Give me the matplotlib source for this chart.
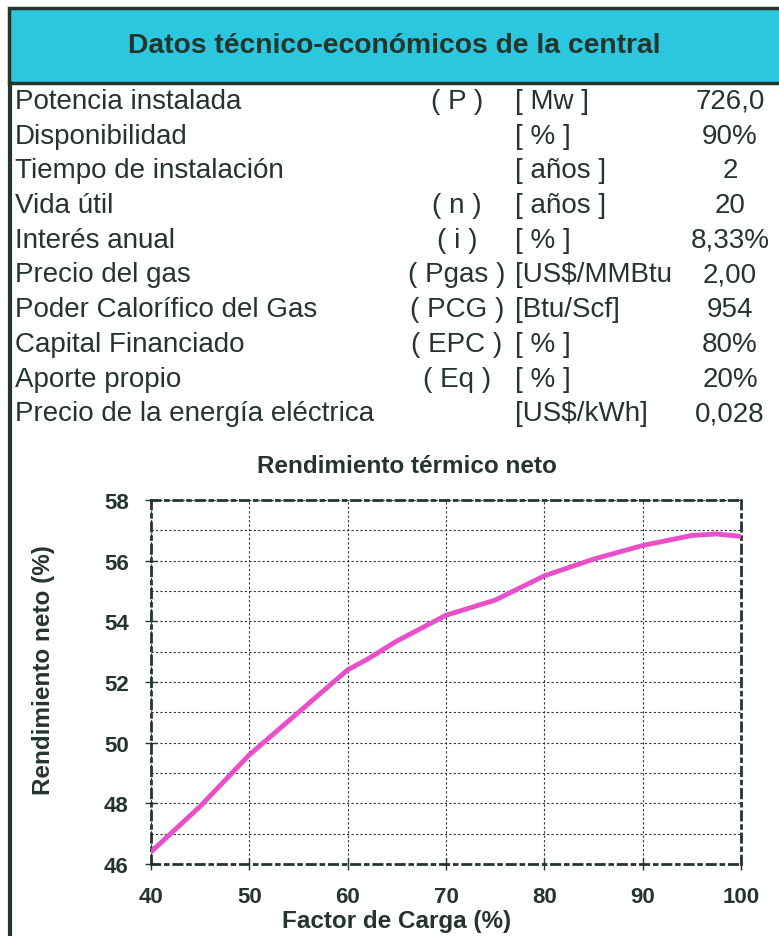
import matplotlib
matplotlib.use("Agg")
import matplotlib.pyplot as plt
from matplotlib.patches import Rectangle
from matplotlib.lines import Line2D

plt.rcParams['font.family'] = ['Liberation Sans', 'DejaVu Sans']

INK = '#24352b'
CYAN = '#2cc6de'

title = 'Datos técnico-económicos de la central'

params = ['Potencia instalada', 'Disponibilidad', 'Tiempo de instalación', 'Vida útil',
          'Interés anual', 'Precio del gas', 'Poder Calorífico del Gas',
          'Capital Financiado', 'Aporte propio', 'Precio de la energía eléctrica']
symbols = ['( P )', '', '', '( n )', '( i )', '( Pgas )', '( PCG )', '( EPC )', '( Eq )', '']
units = ['[ Mw ]', '[ % ]', '[ años ]', '[ años ]', '[ % ]', '[US$/MMBtu', '[Btu/Scf]',
         '[ % ]', '[ % ]', '[US$/kWh]']
values = ['726,0', '90%', '2', '20', '8,33%', '2,00', '954', '80%', '20%', '0,028']

# curva de rendimiento vs factor de carga
carga = [40, 45, 50, 55, 60, 62, 65, 70, 75, 80, 85, 90, 95, 97.5, 100]
rendimiento = [46.4, 47.9, 49.6, 51.0, 52.4, 52.75, 53.35, 54.2, 54.7, 55.5, 56.05,
               56.5, 56.83, 56.88, 56.8]

W, H = 779, 937
fig = plt.figure(figsize=(W / 100, H / 100), dpi=100)
fig.patch.set_facecolor('white')


def fx(px):
    return px / W


def fy(py):
    return 1 - py / H


# encabezado
fig.patches.append(Rectangle((fx(9), fy(84)), fx(W + 10), 75 / H, transform=fig.transFigure,
                             facecolor=CYAN, edgecolor=INK, lw=2.5))
fig.lines.append(Line2D([fx(10), fx(10)], [fy(84), fy(H + 5)], transform=fig.transFigure,
                        color=INK, lw=3))
fig.text(fx(394), fy(46), title, ha='center', va='center', fontsize=20.3, fontweight='bold',
         color=INK)

# tabla de datos
row0, step = 102, 34.7
for i in range(len(params)):
    y = fy(row0 + i * step)
    fig.text(fx(15), y, params[i], ha='left', va='center', fontsize=20, color=INK)
    fig.text(fx(457), y, symbols[i], ha='center', va='center', fontsize=20, color=INK)
    fig.text(fx(515), y, units[i], ha='left', va='center', fontsize=20, color=INK)
    fig.text(fx(730), y, values[i], ha='center', va='center', fontsize=20, color=INK)

# grafico
ax = fig.add_axes([fx(151), fy(865), fx(741 - 151), (865 - 501) / H])
ax.plot(carga, rendimiento, color='#e84fc8', lw=3.5, solid_capstyle='round', zorder=3)
ax.set_xlim(40, 100)
ax.set_ylim(46, 58)
ax.set_xticks(range(40, 101, 10))
ax.set_yticks(range(46, 59, 2))
ax.set_yticks(range(47, 58, 2), minor=True)
ax.grid(True, which='both', axis='y', color='#333333', ls=(0, (2, 2)), lw=0.8)
ax.grid(True, which='major', axis='x', color='#333333', ls=(0, (2, 2)), lw=0.8)
for s in ax.spines.values():
    s.set_color(INK)
    s.set_linewidth(2)
    s.set_linestyle((0, (3, 2, 1, 2)))
ax.tick_params(which='major', direction='inout', length=8, width=1, color=INK,
               labelsize=16, labelcolor=INK)
ax.tick_params(axis='x', which='major', pad=12)
ax.tick_params(axis='y', which='major', pad=12)
ax.tick_params(which='minor', length=0)
for lab in ax.get_xticklabels() + ax.get_yticklabels():
    lab.set_fontweight('bold')

fig.text(fx(407), fy(467), 'Rendimiento térmico neto', ha='center', va='center',
         fontsize=17.5, fontweight='bold', color=INK)
fig.text(fx(397), fy(928), 'Factor de Carga (%)', ha='center', va='baseline',
         fontsize=17.5, fontweight='bold', color=INK)
fig.text(fx(44), fy(670), 'Rendimiento neto (%)', ha='center', va='center', rotation=90,
         fontsize=17.5, fontweight='bold', color=INK)

fig.savefig('out.png', dpi=100)
